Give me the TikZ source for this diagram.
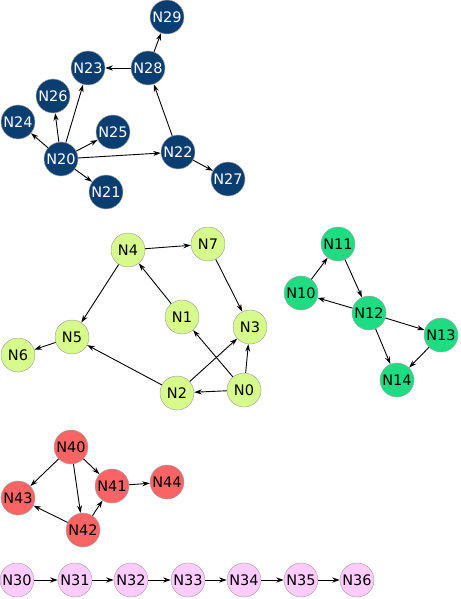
\documentclass[tikz,border=0pt]{standalone}
\usepackage{fontspec}
\setmainfont{DejaVu Sans}
\usetikzlibrary{arrows.meta}
\definecolor{cblue}{RGB}{10,61,112}
\definecolor{cyel}{RGB}{214,250,140}
\definecolor{cgreen}{RGB}{30,220,130}
\definecolor{cred}{RGB}{250,100,100}
\definecolor{cpink}{RGB}{255,204,255}
\tikzset{
  vtx/.style={circle,draw=gray!70,line width=0.5pt,minimum size=34pt,inner sep=0pt,font=\fontsize{14.5}{15}\selectfont},
  bv/.style={vtx,fill=cblue,text=white},
  yv/.style={vtx,fill=cyel},
  gv/.style={vtx,fill=cgreen},
  rv/.style={vtx,fill=cred},
  pv/.style={vtx,fill=cpink},
  edge/.style={draw=black,line width=0.9pt,-{Stealth[length=7.5pt,width=5pt]}}
}
\begin{document}
\begin{tikzpicture}[x=1pt,y=-1pt]
\useasboundingbox (0,0) rectangle (460,599);
% blue
\node[bv] (N29) at (167,17) {N29};
\node[bv] (N28) at (148,68) {N28};
\node[bv] (N23) at (88,68) {N23};
\node[bv] (N26) at (53,96) {N26};
\node[bv] (N24) at (18,122) {N24};
\node[bv] (N25) at (113,132) {N25};
\node[bv] (N20) at (61,159) {N20};
\node[bv] (N22) at (178,152) {N22};
\node[bv] (N21) at (106,192) {N21};
\node[bv] (N27) at (228,179) {N27};
% yellow
\node[yv] (N4) at (128,250) {N4};
\node[yv] (N7) at (208,244) {N7};
\node[yv] (N1) at (182,317) {N1};
\node[yv] (N3) at (250,327) {N3};
\node[yv] (N5) at (72,337) {N5};
\node[yv] (N6) at (18,355) {N6};
\node[yv] (N2) at (177,393) {N2};
\node[yv] (N0) at (244,390) {N0};
% green
\node[gv] (N11) at (338,244) {N11};
\node[gv] (N10) at (301,293) {N10};
\node[gv] (N12) at (369,313) {N12};
\node[gv] (N13) at (441,335) {N13};
\node[gv] (N14) at (397,380) {N14};
% red
\node[rv] (N40) at (71,447) {N40};
\node[rv] (N43) at (18,498) {N43};
\node[rv] (N41) at (112,486) {N41};
\node[rv] (N44) at (167,482) {N44};
\node[rv] (N42) at (83,530) {N42};
% pink
\node[pv] (N30) at (17,580) {N30};
\node[pv] (N31) at (75,580) {N31};
\node[pv] (N32) at (131,580) {N32};
\node[pv] (N33) at (188,580) {N33};
\node[pv] (N34) at (244,580) {N34};
\node[pv] (N35) at (301,580) {N35};
\node[pv] (N36) at (357,580) {N36};
% edges blue
\foreach \a/\b in {N20/N24,N20/N26,N20/N23,N20/N25,N20/N22,N20/N21,N22/N28,N22/N27,N28/N23,N28/N29}
  \draw[edge] (\a) -- (\b);
% edges yellow
\foreach \a/\b in {N4/N7,N7/N3,N4/N5,N1/N4,N5/N6,N2/N5,N2/N3,N0/N1,N0/N2,N0/N3}
  \draw[edge] (\a) -- (\b);
% edges green
\foreach \a/\b in {N10/N11,N11/N12,N12/N10,N12/N13,N12/N14,N13/N14}
  \draw[edge] (\a) -- (\b);
% edges red
\foreach \a/\b in {N40/N43,N40/N42,N40/N41,N41/N44,N42/N43,N42/N41}
  \draw[edge] (\a) -- (\b);
% edges pink
\foreach \a/\b in {N30/N31,N31/N32,N32/N33,N33/N34,N34/N35,N35/N36}
  \draw[edge] (\a) -- (\b);
\end{tikzpicture}
\end{document}
